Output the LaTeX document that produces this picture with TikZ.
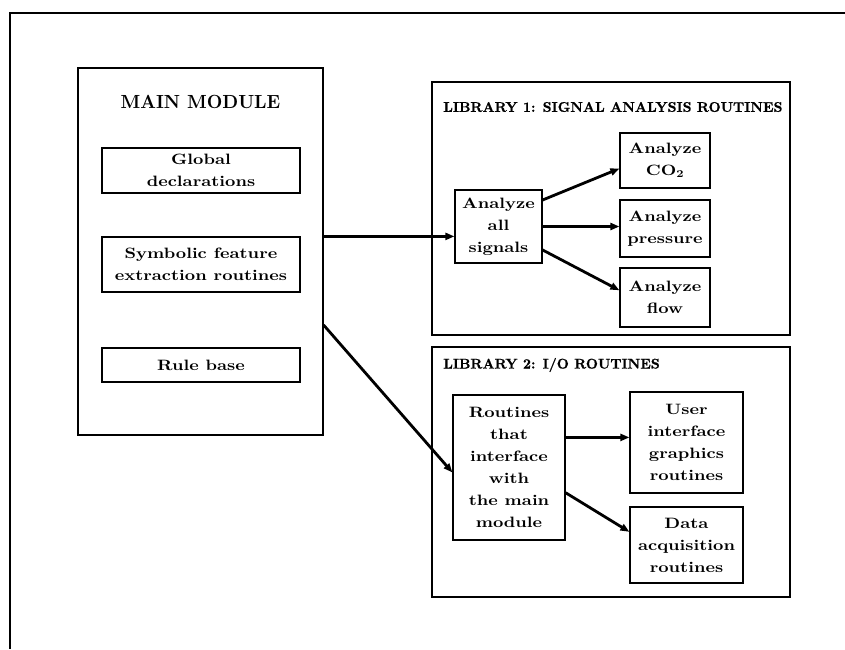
\documentclass[tikz,border=0pt]{standalone}
\usepackage{fontspec}
\newfontfamily\widefont[FakeStretch=1.2]{lmroman10-bold.otf}
\newfontfamily\capsfont[FakeBold=0.8]{lmroman10-bold.otf}
\newfontfamily\titlefont[FakeStretch=0.95]{lmroman10-bold.otf}
\usetikzlibrary{arrows.meta}
\tikzset{
  box/.style={draw, line width=1.2pt, align=center, inner sep=0pt,
    font=\widefont\fontsize{15}{22}\selectfont},
  frame/.style={draw, line width=1.2pt, inner sep=0pt},
  libtitle/.style={anchor=west, inner sep=0pt, font=\capsfont\fontsize{14}{18}\selectfont},
  link/.style={line width=2.8pt, -{Triangle[length=9pt,width=7pt]}}
}
\begin{document}
\begin{tikzpicture}[x=1pt,y=-1pt]
\useasboundingbox (0,0) rectangle (845,649);
% outer border, top and left only
\draw [line width=2pt] (845,13) -- (10,13) -- (10,649);
% main module
\node [frame, minimum width=245pt, minimum height=367pt] (main) at (200.5,251.5) {};
\node [inner sep=0pt, font=\titlefont\fontsize{19}{26}\selectfont] (mtitle) at (200.5,102) {MAIN MODULE};
\node [box, minimum width=198pt, minimum height=45pt] (glob) at (201,170.5) {Global\\declarations};
\node [box, minimum width=198pt, minimum height=55pt] (sym) at (201,264.5) {Symbolic feature\\extraction routines};
\node [box, minimum width=198pt, minimum height=34pt] (rule) at (201,365) {Rule base};
% library 1
\node [frame, minimum width=358pt, minimum height=253pt] (lib1) at (611,208.5) {};
\node [libtitle] (l1title) at (443,107) {LIBRARY 1: SIGNAL ANALYSIS ROUTINES};
\node [box, minimum width=87pt, minimum height=73pt] (sig) at (498.5,226.5) {Analyze\\all\\signals};
\node [box, minimum width=90pt, minimum height=55pt] (co2) at (665,160.5) {Analyze\\CO\textsubscript{2}};
\node [box, minimum width=90pt, minimum height=57pt] (pres) at (665,228.5) {Analyze\\pressure};
\node [box, minimum width=90pt, minimum height=59pt] (flow) at (665,297.5) {Analyze\\flow};
% library 2
\node [frame, minimum width=358pt, minimum height=250pt] (lib2) at (611,472) {};
\node [libtitle] (l2title) at (443,365) {LIBRARY 2: I/O ROUTINES};
\node [box, minimum width=112pt, minimum height=145pt] (io) at (509,467.5) {Routines\\that\\interface\\with\\the main\\module};
\node [box, minimum width=113pt, minimum height=101pt] (ui) at (686.5,442.5) {User\\interface\\graphics\\routines};
\node [box, minimum width=113pt, minimum height=76pt] (daq) at (686.5,545) {Data\\acquisition\\routines};
\coordinate (mout) at (main.east |- 0,325);
% connectors
\draw [link] (main.east |- sym.north) -- (sym.north -| sig.west);
\draw [link] (mout) -- (io.185);
\draw [link] (sig.31) -- (co2.190);
\draw [link] (sig.east) -- (sig.east -| pres.west);
\draw [link] (sig.-28) -- (flow.171);
\draw [link] (io.28) -- (io.28 -| ui.west);
\draw [link] (io.-24) -- (daq.167);
\end{tikzpicture}
\end{document}
